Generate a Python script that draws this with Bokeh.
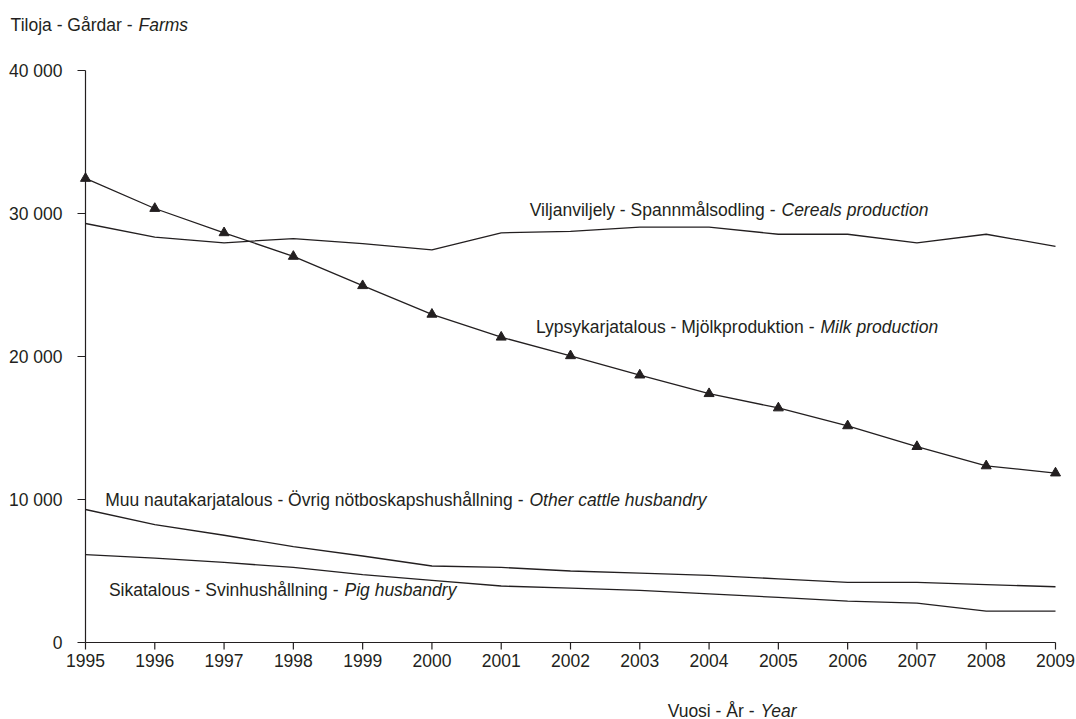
from bokeh.plotting import figure
from bokeh.models import Range1d
from bokeh.core.properties import value
from bokeh.embed import file_html
from bokeh.resources import INLINE

# ---- data ----
years = list(range(1995, 2010))
cereals = [29300, 28350, 27950, 28250, 27900, 27450, 28650, 28750, 29050, 29050, 28550, 28550, 27950, 28550, 27700]
milk = [32450, 30350, 28650, 27000, 24950, 22950, 21350, 20050, 18700, 17400, 16400, 15150, 13700, 12350, 11850]
other_cattle = [9300, 8250, 7500, 6700, 6050, 5350, 5250, 5000, 4850, 4700, 4450, 4200, 4200, 4050, 3900]
pig = [6150, 5900, 5600, 5250, 4750, 4350, 3950, 3800, 3650, 3400, 3150, 2900, 2750, 2200, 2200]

y_ticks = [0, 10000, 20000, 30000, 40000]
y_tick_labels = ["0", "10 000", "20 000", "30 000", "40 000"]
x_tick_labels = [str(y) for y in years]

# ---- layout (pixels) ----
W, H = 1076, 719
FX0, FX1 = 85, 1055      # pixel of first / last year
FY0, FY1 = 642, 70       # pixel of 0 / 40000
XMIN, XMAX = years[0], years[-1]
YMIN, YMAX = y_ticks[0], y_ticks[-1]

def dx(px):
    return XMIN + (px - FX0) * (XMAX - XMIN) / (FX1 - FX0)

def dy(py):
    return YMIN + (FY0 - py) * (YMAX - YMIN) / (FY0 - FY1)

xpx = (XMAX - XMIN) / (FX1 - FX0)
ypx = (YMAX - YMIN) / (FY0 - FY1)

FONT = value("Liberation Sans")
FS = value("17.5px")
COL = "#231f20"

p = figure(width=W, height=H, output_backend="svg", toolbar_location=None,
           x_range=Range1d(dx(0), dx(W)), y_range=Range1d(dy(H), dy(0)),
           x_axis_type=None, y_axis_type=None, title=None, min_border=0)
p.outline_line_color = None
p.grid.visible = False
p.background_fill_color = "white"

# axes
p.segment(x0=[XMIN, XMIN], y0=[YMIN, YMIN], x1=[XMAX, XMIN], y1=[YMIN, YMAX],
          line_color=COL, line_width=1.2)
p.segment(x0=years, y0=[YMIN] * len(years), x1=years, y1=[YMIN - 7 * ypx] * len(years),
          line_color=COL, line_width=1.2)
p.segment(x0=[XMIN] * len(y_ticks), y0=y_ticks, x1=[XMIN - 8 * xpx] * len(y_ticks), y1=y_ticks,
          line_color=COL, line_width=1.2)
p.text(x=years, y=[YMIN] * len(years), text=x_tick_labels, text_font=FONT, text_font_size=FS,
       text_color=COL, text_align="center", text_baseline="middle", y_offset=17.5)
p.text(x=[XMIN] * len(y_ticks), y=y_ticks, text=y_tick_labels, text_font=FONT, text_font_size=FS,
       text_color=COL, text_align="right", text_baseline="middle", x_offset=-23)

# series
LW = 1.3
p.line(years, cereals, line_color=COL, line_width=LW)
p.line(years, milk, line_color=COL, line_width=LW)
p.scatter(years, milk, marker="triangle", size=10, fill_color=COL, line_color=COL)
p.line(years, other_cattle, line_color=COL, line_width=LW)
p.line(years, pig, line_color=COL, line_width=LW)

# texts: (normal part, italic part, italic start px, centre y px)
texts = [
    ("Tiloja - Gårdar -", "Farms", 138, 24),
    ("Viljanviljely - Spannmålsodling -", "Cereals production", 781, 209),
    ("Lypsykarjatalous - Mjölkproduktion -", "Milk production", 820, 326),
    ("Muu nautakarjatalous - Övrig nötboskapshushållning -", "Other cattle husbandry", 529, 499),
    ("Sikatalous - Svinhushållning -", "Pig husbandry", 344, 589),
    ("Vuosi - År -", "Year", 760, 710),
]
p.text(x=[dx(t[2] - 6) for t in texts], y=[dy(t[3]) for t in texts], text=[t[0] for t in texts],
       text_font=FONT, text_font_size=FS, text_color=COL, text_align="right", text_baseline="middle")
p.text(x=[dx(t[2]) for t in texts], y=[dy(t[3]) for t in texts], text=[t[1] for t in texts],
       text_font=FONT, text_font_size=FS, text_font_style="italic", text_color=COL,
       text_align="left", text_baseline="middle")

open("out.html", "w").write(file_html(p, INLINE))
